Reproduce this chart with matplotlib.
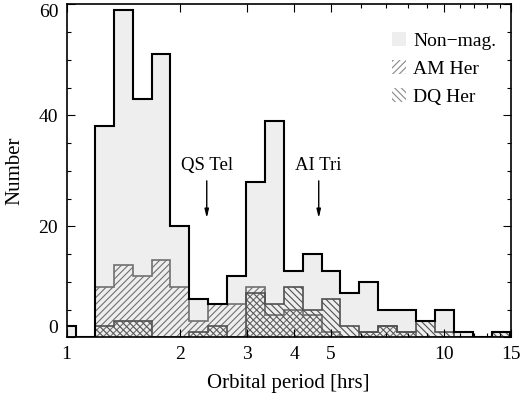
import numpy as np
import matplotlib.pyplot as plt
from matplotlib.patches import Patch
from matplotlib.ticker import MultipleLocator, FixedLocator, NullFormatter

plt.rcParams['font.family'] = ['Liberation Serif', 'DejaVu Serif']
plt.rcParams['hatch.linewidth'] = 0.8

# log-spaced bins, 0.05 dex wide
edges = 10 ** (np.arange(25) * 0.05 - 0.025)

# counts per bin
total = [2, 0, 38, 59, 43, 51, 20, 7, 6, 11, 28, 39, 12, 15, 12, 8, 10, 5, 5, 3, 5, 1, 0, 1]
am_her = [0, 0, 9, 13, 11, 14, 9, 3, 6, 6, 9, 4, 5, 4, 1, 0, 1, 2, 1, 0, 0, 0, 0, 0]
dq_her = [0, 0, 2, 3, 3, 0, 0, 1, 2, 0, 8, 6, 9, 5, 7, 2, 1, 2, 1, 3, 1, 0, 0, 1]

labels = ['Non\u2212mag.', 'AM Her', 'DQ Her']
notes = [('QS Tel', 2.35), ('AI Tri', 4.65)]

fig = plt.figure(figsize=(5.24, 3.96), dpi=100)
ax = fig.add_axes([0.127, 0.148, 0.848, 0.841])

ax.stairs(total, edges, fill=True, facecolor='#eeeeee', edgecolor='none')
ax.stairs(am_her, edges, fill=True, facecolor='none', edgecolor='#707070', hatch='/////', lw=1.2)
ax.stairs(dq_her, edges, fill=True, facecolor='none', edgecolor='#505050', hatch='\\\\\\\\\\', lw=1.2)
ax.stairs(total, edges, fill=False, edgecolor='black', lw=1.5)

for name, xp in notes:
    ax.text(xp, 31, name, ha='center', va='center', fontsize=13.5)
    ax.annotate('', xy=(xp, 21.5), xytext=(xp, 28.2),
                arrowprops=dict(arrowstyle='-|>,head_width=0.12,head_length=0.5',
                                color='black', lw=1, shrinkA=0, shrinkB=0))

ax.set_xscale('log')
ax.set_xlim(1, 15)
ax.set_ylim(0, 60)
ax.xaxis.set_major_locator(FixedLocator([1, 2, 3, 4, 5, 10, 15]))
ax.xaxis.set_minor_locator(FixedLocator([6, 7, 8, 9, 11, 12, 13, 14]))
ax.set_xticklabels(['1', '2', '3', '4', '5', '10', '15'])
ax.xaxis.set_minor_formatter(NullFormatter())
ax.set_yticks([0, 20, 40, 60])
ax.yaxis.set_minor_locator(MultipleLocator(5))
ax.tick_params(which='both', direction='in', top=True, right=True, labelsize=14, pad=6)
ax.tick_params(which='major', length=6, width=0.8)
ax.tick_params(which='minor', length=3, width=0.8)
ylabs = ax.get_yticklabels()
ylabs[0].set_va('bottom')
ylabs[-1].set_va('top')
for s in ax.spines.values():
    s.set_linewidth(1.2)

ax.set_xlabel('Orbital period [hrs]', fontsize=15, labelpad=8)
ax.set_ylabel('Number', fontsize=15, labelpad=10)

handles = [Patch(facecolor='#eeeeee', edgecolor='none'),
           Patch(facecolor='none', edgecolor='#888888', hatch='/////', lw=0),
           Patch(facecolor='none', edgecolor='#888888', hatch='\\\\\\\\\\', lw=0)]
ax.legend(handles, labels, loc='upper right', frameon=False, fontsize=14,
          handlelength=0.7, handleheight=0.7, handletextpad=0.4,
          labelspacing=0.53, borderaxespad=0, bbox_to_anchor=(0.985, 0.94))

fig.savefig('out.png', dpi=100)
